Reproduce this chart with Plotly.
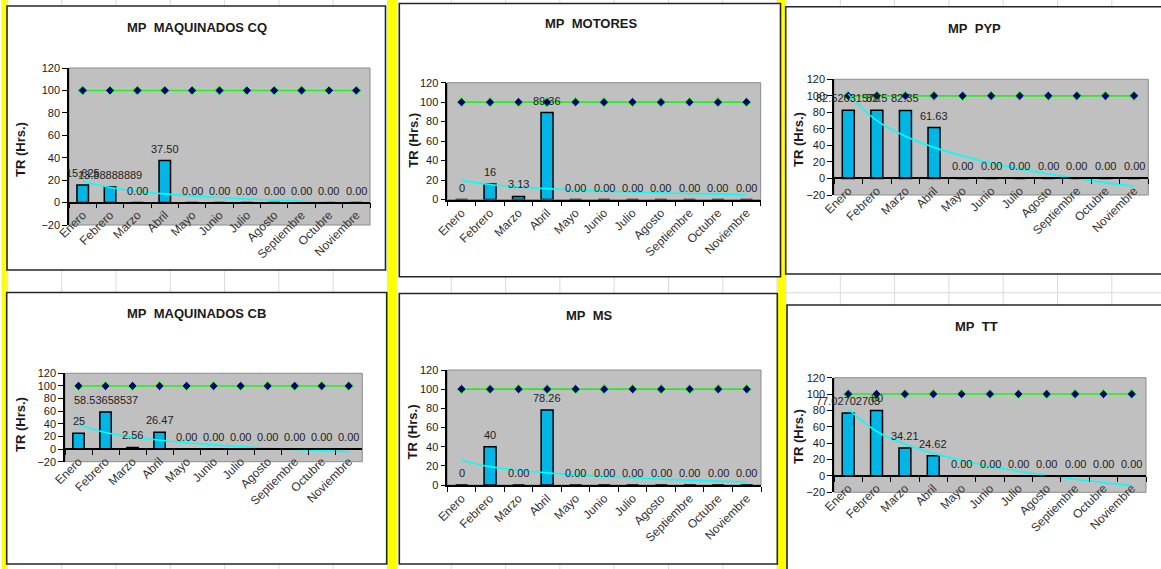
import numpy as np
import plotly.graph_objects as go

W, H = 1161, 569
FONT = "Arial, Liberation Sans, sans-serif"

MONTHS = ["Enero", "Febrero", "Marzo", "Abril", "Mayo", "Junio",
          "Julio", "Agosto", "Septiembre", "Octubre", "Noviembre"]
TARGET = [100, 100, 100, 100, 100, 100, 100, 100, 100, 100, 100]

cq_values = [15.625, 13.88888889, 0, 37.50, 0, 0, 0, 0, 0, 0, 0]
cq_labels = ["15.625", "13.88888889", "0.00", "37.50", "0.00", "0.00",
             "0.00", "0.00", "0.00", "0.00", "0.00"]

motores_values = [0, 16, 3.13, 89.36, 0, 0, 0, 0, 0, 0, 0]
motores_labels = ["0", "16", "3.13", "89.36", "0.00", "0.00",
                  "0.00", "0.00", "0.00", "0.00", "0.00"]

pyp_values = [82.52631579, 82.5, 82.35, 61.63, 0, 0, 0, 0, 0, 0, 0]
pyp_labels = ["82.52631579", "82.5", "82.35", "61.63", "0.00", "0.00",
              "0.00", "0.00", "0.00", "0.00", "0.00"]

cb_values = [25, 58.53658537, 2.56, 26.47, 0, 0, 0, 0, 0, 0, 0]
cb_labels = ["25", "58.53658537", "2.56", "26.47", "0.00", "0.00",
             "0.00", "0.00", "0.00", "0.00", "0.00"]

ms_values = [0, 40, 0, 78.26, 0, 0, 0, 0, 0, 0, 0]
ms_labels = ["0", "40", "0.00", "78.26", "0.00", "0.00",
             "0.00", "0.00", "0.00", "0.00", "0.00"]

tt_values = [77.02702703, 80, 34.21, 24.62, 0, 0, 0, 0, 0, 0, 0]
tt_labels = ["77.02702703", "80", "34.21", "24.62", "0.00", "0.00",
             "0.00", "0.00", "0.00", "0.00", "0.00"]

# Layout of each chart object on the sheet (pixels):
# plot area box, y-axis minimum, title centre, y-title centre, outer frame
charts = [
    dict(name="MP\u00a0\u00a0MAQUINADOS CQ", values=cq_values, labels=cq_labels,
         plot=(69, 68, 370, 225), ymin=-20, title=(197, 28), ytitle=(20, 150),
         frame=(7, 6, 385.5, 270)),
    dict(name="MP\u00a0\u00a0MOTORES", values=motores_values, labels=motores_labels,
         plot=(447.3, 82.7, 760.7, 199.5), ymin=0, title=(591.7, 23), ytitle=(412.7, 140),
         frame=(399.3, 3.5, 780.5, 276.7)),
    dict(name="MP\u00a0\u00a0PYP", values=pyp_values, labels=pyp_labels,
         plot=(834, 79.3, 1148.3, 195), ymin=-20, title=(974.3, 28.3), ytitle=(798, 140),
         frame=(785.7, 6.7, 1175, 274)),
    dict(name="MP\u00a0\u00a0MAQUINADOS CB", values=cb_values, labels=cb_labels,
         plot=(65, 373.3, 362.3, 461.7), ymin=-20, title=(196.7, 313.3), ytitle=(20, 425),
         frame=(6.7, 292.5, 386.7, 564)),
    dict(name="MP\u00a0\u00a0MS", values=ms_values, labels=ms_labels,
         plot=(447.3, 370, 761, 485), ymin=0, title=(589.3, 315), ytitle=(412.7, 431.7),
         frame=(399.3, 293.5, 777.3, 564)),
    dict(name="MP\u00a0\u00a0TT", values=tt_values, labels=tt_labels,
         plot=(834, 377.7, 1146, 492.3), ymin=-20, title=(976.7, 326.7), ytitle=(798.3, 436.7),
         frame=(787, 305, 1175, 590)),
]


def px_x(v):
    return v / W


def px_y(v):
    return 1 - v / H


fig = go.Figure()
shapes = []
annotations = []

# Spreadsheet column lines behind the charts
col_lines = [7.3, 61.7, 116, 170.3, 224.6, 278.9, 333.2, 387.5, 397, 451.3,
             505.6, 559.9, 614.2, 668.5, 722.8, 777, 786, 840.3, 894.6,
             948.9, 1003.2, 1057.5, 1111.8]
for cx in col_lines:
    shapes.append(dict(type="line", xref="paper", yref="paper", layer="below",
                       x0=px_x(cx), x1=px_x(cx), y0=0, y1=1,
                       line=dict(color="#DADADA", width=1)))
shapes.append(dict(type="line", xref="paper", yref="paper", layer="below",
                   x0=px_x(786), x1=1, y0=px_y(292.7), y1=px_y(292.7),
                   line=dict(color="#DADADA", width=1)))

# Yellow separator columns
for x0, x1 in [(1.5, 6.7), (387.3, 396.7), (777, 786)]:
    shapes.append(dict(type="rect", xref="paper", yref="paper", layer="below",
                       x0=px_x(x0), x1=px_x(x1), y0=0, y1=1,
                       fillcolor="#FFFF00", line=dict(width=0)))

for i, c in enumerate(charts, start=1):
    xa = "x" if i == 1 else f"x{i}"
    ya = "y" if i == 1 else f"y{i}"
    px0, py0, px1, py1 = c["plot"]
    xdom = [px_x(px0), px_x(px1)]
    ydom = [px_y(py1), px_y(py0)]
    ymin, ymax = c["ymin"], 120

    # chart frame and plot area
    fx0, fy0, fx1, fy1 = c["frame"]
    shapes.append(dict(type="rect", xref="paper", yref="paper", layer="below",
                       x0=px_x(fx0), x1=px_x(fx1), y0=px_y(fy1), y1=px_y(fy0),
                       fillcolor="white", line=dict(color="#262626", width=1.6)))
    shapes.append(dict(type="rect", xref="paper", yref="paper", layer="below",
                       x0=xdom[0], x1=xdom[1], y0=ydom[0], y1=ydom[1],
                       fillcolor="#C0C0C0", line=dict(color="#8C8C8C", width=1)))

    vals = np.array(c["values"], dtype=float)
    # logarithmic trend line fitted to the monthly values
    xs = np.arange(1, len(vals) + 1)
    slope, intercept = np.polyfit(np.log(xs), vals, 1)
    trend = slope * np.log(xs) + intercept

    fig.add_trace(go.Bar(x=MONTHS, y=vals, width=0.42, xaxis=xa, yaxis=ya,
                         marker=dict(color="#00B6E6", line=dict(color="black", width=1.5)),
                         hoverinfo="x+y"))
    fig.add_trace(go.Scatter(x=MONTHS, y=TARGET, mode="lines+markers", xaxis=xa, yaxis=ya,
                             line=dict(color="#22EE22", width=1.6),
                             marker=dict(symbol="diamond", size=7, color="#000070",
                                         line=dict(color="#33FF33", width=1))))
    fig.add_trace(go.Scatter(x=MONTHS, y=trend, mode="lines", xaxis=xa, yaxis=ya,
                             line=dict(color="#00FFFF", width=1.6, shape="spline")))

    for m, v, t in zip(MONTHS, vals, c["labels"]):
        annotations.append(dict(x=m, y=v, xref=xa, yref=ya, text=t, showarrow=False,
                                yshift=12, font=dict(family=FONT, size=11, color="#222222")))

    xpos = ydom[0] + (ydom[1] - ydom[0]) * (0 - ymin) / (ymax - ymin)
    xaxis = dict(domain=xdom, type="category", categoryorder="array", categoryarray=MONTHS,
                 range=[-0.5, len(MONTHS) - 0.5], showline=True, linecolor="black",
                 linewidth=1.5, ticks="outside", tickson="boundaries", ticklen=5,
                 tickcolor="black", tickwidth=1.2, tickangle=-45,
                 tickfont=dict(family=FONT, size=12, color="#333333"),
                 showgrid=False, zeroline=False, fixedrange=True, automargin=False)
    if ymin < 0:
        xaxis.update(anchor="free", position=xpos)
    else:
        xaxis.update(anchor=ya)
    yaxis = dict(domain=ydom, range=[ymin, ymax], dtick=20, tick0=0, anchor=xa,
                 showline=True, linecolor="black", linewidth=1.5, ticks="outside",
                 ticklen=5, tickcolor="black", tickwidth=1.2,
                 tickfont=dict(family=FONT, size=11, color="#1A1A1A"),
                 showgrid=False, zeroline=False, fixedrange=True, automargin=False)
    key = "" if i == 1 else str(i)
    fig.update_layout(**{f"xaxis{key}": xaxis, f"yaxis{key}": yaxis})

    tx, ty = c["title"]
    annotations.append(dict(x=px_x(tx), y=px_y(ty), xref="paper", yref="paper",
                            text=f"<b>{c['name']}</b>", showarrow=False,
                            xanchor="center", yanchor="middle",
                            font=dict(family=FONT, size=13, color="#1A1A1A")))
    yx, yy = c["ytitle"]
    annotations.append(dict(x=px_x(yx), y=px_y(yy), xref="paper", yref="paper",
                            text="<b>TR (Hrs.)</b>", textangle=-90, showarrow=False,
                            xanchor="center", yanchor="middle",
                            font=dict(family=FONT, size=13, color="#1A1A1A")))

fig.update_layout(template="none", width=W, height=H,
                  margin=dict(l=0, r=0, t=0, b=0, pad=0, autoexpand=False),
                  paper_bgcolor="white", plot_bgcolor="rgba(0,0,0,0)",
                  showlegend=False, barmode="overlay",
                  shapes=shapes, annotations=annotations,
                  font=dict(family=FONT))

# the page body gets no margin so the figure sits flush in the window
fig.write_html("out.html", config={"displayModeBar": False},
               post_script="document.body.style.margin='0';"
                           "document.documentElement.style.overflow='hidden';")
